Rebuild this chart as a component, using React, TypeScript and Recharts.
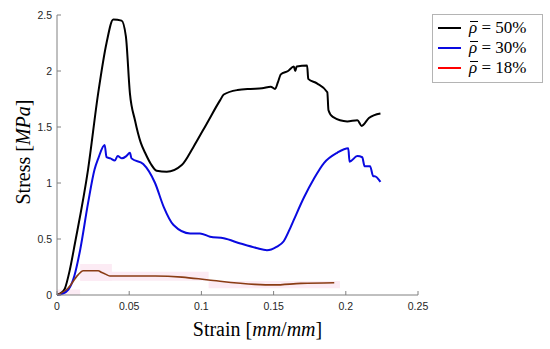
import { ComposedChart, Line, Area, XAxis, YAxis, Legend, Label } from 'recharts'

// strain [mm/mm] / stress [MPa]
const strain50 = [0, 0.003, 0.0055, 0.0088, 0.0124, 0.0215, 0.0285, 0.0343, 0.039, 0.0447, 0.0477, 0.0505, 0.054, 0.058, 0.061, 0.065, 0.069, 0.076, 0.0864, 0.0944, 0.1037, 0.113, 0.1155, 0.125, 0.134, 0.142, 0.148, 0.151, 0.153, 0.155, 0.16, 0.164, 0.165, 0.166, 0.1732, 0.174, 0.18, 0.1872, 0.188, 0.191, 0.201, 0.208, 0.211, 0.216, 0.224]
const stress50 = [0, 0.02, 0.06, 0.22, 0.46, 1.12, 1.8, 2.25, 2.46, 2.45, 2.31, 1.8, 1.56, 1.36, 1.27, 1.17, 1.11, 1.1, 1.16, 1.32, 1.53, 1.74, 1.79, 1.83, 1.84, 1.845, 1.86, 1.84, 1.9, 1.97, 2.0, 2.04, 2.0, 2.04, 2.05, 1.93, 1.89, 1.81, 1.65, 1.59, 1.55, 1.56, 1.51, 1.58, 1.62]

const strain30 = [0, 0.0035, 0.008, 0.012, 0.016, 0.0215, 0.026, 0.0286, 0.033, 0.0343, 0.037, 0.04, 0.042, 0.045, 0.048, 0.0505, 0.0516, 0.0597, 0.0679, 0.0738, 0.0807, 0.0922, 0.099, 0.106, 0.1155, 0.127, 0.138, 0.1454, 0.152, 0.157, 0.1616, 0.164, 0.171, 0.178, 0.185, 0.194, 0.2017, 0.2026, 0.208, 0.2114, 0.213, 0.2168, 0.219, 0.22, 0.224]
const stress30 = [0, 0.01, 0.05, 0.17, 0.4, 0.82, 1.12, 1.22, 1.34, 1.23, 1.22, 1.2, 1.24, 1.22, 1.24, 1.27, 1.22, 1.17, 1.0, 0.79, 0.625, 0.55, 0.55, 0.52, 0.506, 0.46, 0.42, 0.4, 0.43, 0.48, 0.6, 0.67, 0.87, 1.04, 1.18, 1.27, 1.31, 1.19, 1.24, 1.23, 1.15, 1.15, 1.06, 1.06, 1.01]

const strain18 = [0, 0.0076, 0.0146, 0.018, 0.0285, 0.031, 0.033, 0.0366, 0.068, 0.0866, 0.105, 0.137, 0.15, 0.169, 0.192]
const stress18 = [0, 0.06, 0.18, 0.217, 0.217, 0.2, 0.19, 0.17, 0.17, 0.16, 0.134, 0.095, 0.09, 0.104, 0.11]

// faint scatter band around the 18% curve
const bandX = [0, 0.016, 0.016, 0.038, 0.038, 0.105, 0.105, 0.196]
const bandLo = [0, 0, 0.125, 0.125, 0.128, 0.128, 0.06, 0.06]
const bandHi = [0.05, 0.05, 0.277, 0.277, 0.208, 0.208, 0.125, 0.125]

const xTicks = [0, 0.05, 0.1, 0.15, 0.2, 0.25]
const yTicks = [0, 0.5, 1, 1.5, 2, 2.5]

const series = [
  { name: '50%', color: '#000000', legendColor: '#000000', width: 2, data: strain50.map((x, i) => ({ x, y: stress50[i] })) },
  { name: '30%', color: '#0a0ae0', legendColor: '#0a0ae0', width: 2, data: strain30.map((x, i) => ({ x, y: stress30[i] })) },
  { name: '18%', color: '#8a3c14', legendColor: '#ff0000', width: 1.6, data: strain18.map((x, i) => ({ x, y: stress18[i] })) },
]
const band = bandX.map((x, i) => ({ x, range: [bandLo[i], bandHi[i]] }))

const axisColor = '#808080'
const tickStyle = { fontSize: 10.5, fill: '#262626', fontFamily: 'Liberation Sans, Arial, sans-serif' }
const labelFont = 'Liberation Serif, DejaVu Serif, serif'

function RhoBar() {
  return (
    <span style={{ position: 'relative', fontStyle: 'italic' }}>
      ρ
      <span style={{ position: 'absolute', left: 1, top: 3, width: 8, height: 1.3, background: '#000' }} />
    </span>
  )
}

function LegendBox() {
  return (
    <div style={{ border: '1px solid #b4b4b4', background: '#fff', padding: '3px 0 4px 5px', width: 104 }}>
      {series.map((s) => (
        <div key={s.name} style={{ display: 'flex', alignItems: 'center', height: 20 }}>
          <span style={{ display: 'inline-block', width: 23, height: 2, background: s.legendColor, marginRight: 8 }} />
          <span style={{ fontFamily: labelFont, fontSize: 17, color: '#000', lineHeight: '20px' }}>
            <RhoBar /> = {s.name}
          </span>
        </div>
      ))}
    </div>
  )
}

export default function App() {
  return (
    <div style={{ position: 'absolute', left: 0, top: 0, background: '#fff' }}>
      <ComposedChart width={550} height={349} margin={{ top: 15, right: 132, left: 0, bottom: 0 }}>
        <XAxis
          dataKey="x"
          type="number"
          domain={[0, 0.25]}
          ticks={xTicks}
          height={54}
          allowDuplicatedCategory={false}
          stroke={axisColor}
          tickSize={-4}
          tickMargin={12}
          tick={tickStyle}
        >
          <Label
            content={({ viewBox }: any) => (
              <text x={viewBox.x + viewBox.width / 2 + 20} y={viewBox.y + 41} textAnchor="middle" fontFamily={labelFont} fontSize={20} fill="#000">
                Strain [<tspan fontStyle="italic">mm</tspan>/<tspan fontStyle="italic">mm</tspan>]
              </text>
            )}
          />
        </XAxis>
        <XAxis xAxisId="top" orientation="top" type="number" domain={[0, 0.25]} ticks={xTicks} height={0} stroke={axisColor} tickSize={-4} tick={() => <g />} />
        <YAxis
          dataKey="y"
          type="number"
          domain={[0, 2.5]}
          ticks={yTicks}
          width={57}
          stroke={axisColor}
          tickSize={-4}
          tickMargin={9}
          tick={tickStyle}
        >
          <Label
            content={({ viewBox }: any) => (
              <text x={30} y={viewBox.y + viewBox.height / 2 - 3} transform={`rotate(-90, 30, ${viewBox.y + viewBox.height / 2 - 3})`} textAnchor="middle" fontFamily={labelFont} fontSize={20} fill="#000">
                Stress [<tspan fontStyle="italic">MPa</tspan>]
              </text>
            )}
          />
        </YAxis>
        <YAxis yAxisId="right" orientation="right" type="number" domain={[0, 2.5]} ticks={yTicks} width={0} stroke={axisColor} tickSize={-4} tick={() => <g />} />
        <Area data={band} dataKey="range" type="linear" stroke="none" fill="#fcebf4" fillOpacity={1} isAnimationActive={false} legendType="none" />
        {series.map((s) => (
          <Line
            key={s.name}
            data={s.data}
            dataKey="y"
            name={s.name}
            type="monotone"
            stroke={s.color}
            strokeWidth={s.width}
            strokeLinejoin="round"
            dot={false}
            activeDot={false}
            isAnimationActive={false}
          />
        ))}
        <Legend layout="vertical" align="center" verticalAlign="middle" wrapperStyle={{ left: 432, top: 14, width: 110 }} content={() => <LegendBox />} />
      </ComposedChart>
    </div>
  )
}
